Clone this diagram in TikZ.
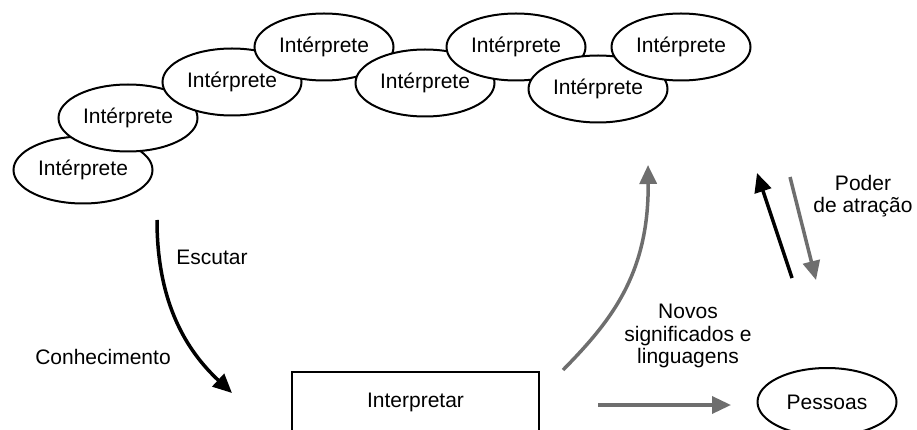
\documentclass[tikz,border=0pt]{standalone}
\usepackage{fontspec}
\setmainfont{Liberation Sans}
\usetikzlibrary{arrows.meta,shapes.geometric}
\definecolor{flowgray}{HTML}{6E6E6E}
\begin{document}
\begin{tikzpicture}[x=1pt,y=1pt,
  every node/.style={font=\fontsize{21}{22.5}\selectfont},
  interp/.style={ellipse,draw=black,line width=2pt,fill=white,
    minimum width=139pt,minimum height=67pt,inner sep=0pt},
  label/.style={align=center,inner sep=0pt},
  bigtip/.style={-{Triangle[length=19pt,width=17pt]},line width=3.5pt},
  darkflow/.style={bigtip,draw=black},
  grayflow/.style={bigtip,draw=flowgray},
]
\useasboundingbox (0,0) rectangle (917,-430);
\begin{scope}
\clip (0,0) rectangle (917,-430);

% chain of interpreters, each one drawn over the previous
\node[interp] (i1) at (83,-170) {Intérprete};
\node[interp] (i2) at (128,-118) {Intérprete};
\node[interp] (i3) at (232,-82) {Intérprete};
\node[interp] (i4) at (324,-47) {Intérprete};
\node[interp] (i5) at (425,-83) {Intérprete};
\node[interp] (i6) at (516,-47) {Intérprete};
\node[interp] (i7) at (598,-89) {Intérprete};
\node[interp] (i8) at (681,-47) {Intérprete};

% process box and audience
\node[draw=black,line width=2pt,minimum width=247pt,minimum height=60pt,
      inner sep=0pt] (box) at (415.5,-402) {};
\node (interp) at (415.5,-402) {Interpretar};
\node[ellipse,draw=black,line width=2pt,minimum width=139pt,
      minimum height=68pt,inner sep=0pt] (pessoas) at (827,-402) {Pessoas};
\end{scope}

% anchor points of the free-standing arrows
\coordinate (escA) at (157,-220);
\coordinate (escB) at (232,-393);
\coordinate (novA) at (563,-370);
\coordinate (novB) at (648,-165);
\coordinate (upA) at (792,-278);
\coordinate (upB) at (757,-173);
\coordinate (dnA) at (790,-177);
\coordinate (dnB) at (816,-280);
\coordinate (hA) at (598,-405);
\coordinate (hB) at (731,-405);

% arrows
\draw[darkflow] (escA) .. controls (157,-305) and (188,-352) .. (escB);
\draw[grayflow] (novA) .. controls (610,-322) and (649,-275) .. (novB);
\draw[darkflow] (upA) -- (upB);
\draw[grayflow] (dnA) -- (dnB);
\draw[grayflow] (hA) -- (hB);

% labels
\node[label] (escutar) at (212,-257) {Escutar};
\node[label] (conhec) at (103,-357) {Conhecimento};
\node[label] (novos) at (688,-336) {Novos\\significados e\\linguagens};
\node[label] (poder) at (863,-196) {Poder\\de atração};
\end{tikzpicture}
\end{document}
